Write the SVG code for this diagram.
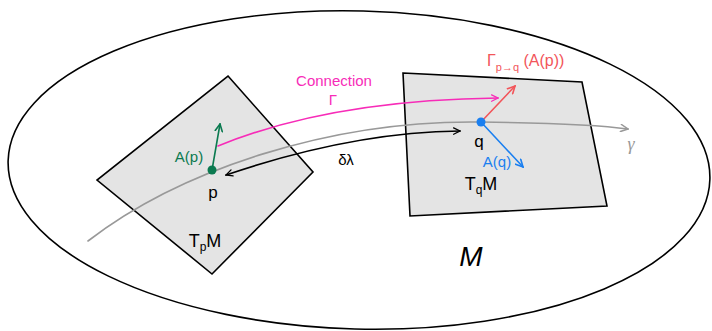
<svg xmlns="http://www.w3.org/2000/svg" width="712" height="331" viewBox="0 0 712 331">
<defs>
<style>
.t{font-family:"Liberation Sans","DejaVu Sans",sans-serif;}
.edge{fill:none;stroke-width:1.6;stroke-linecap:round;}
.plane{fill:#e4e4e4;stroke:#000;stroke-width:1.6;stroke-linejoin:miter;}
</style>
<marker id="ak" viewBox="0 0 10 10" refX="9" refY="5" markerWidth="8" markerHeight="8" orient="auto-start-reverse" markerUnits="userSpaceOnUse"><path d="M1 1 L9 5 L1 9" fill="none" stroke="#000" stroke-width="1.6" stroke-linecap="round"/></marker>
<marker id="ag" viewBox="0 0 10 10" refX="9" refY="5" markerWidth="9" markerHeight="9" orient="auto" markerUnits="userSpaceOnUse"><path d="M1 1 L9 5 L1 9" fill="none" stroke="#999" stroke-width="1.6" stroke-linecap="round"/></marker>
<marker id="ap" viewBox="0 0 10 10" refX="9" refY="5" markerWidth="8" markerHeight="8" orient="auto" markerUnits="userSpaceOnUse"><path d="M1 1 L9 5 L1 9" fill="none" stroke="#f72cb8" stroke-width="1.6" stroke-linecap="round"/></marker>
<marker id="ar" viewBox="0 0 10 10" refX="9" refY="5" markerWidth="9" markerHeight="9" orient="auto" markerUnits="userSpaceOnUse"><path d="M1 1 L9 5 L1 9" fill="none" stroke="#f2555a" stroke-width="1.8" stroke-linecap="round"/></marker>
<marker id="ab" viewBox="0 0 10 10" refX="9" refY="5" markerWidth="9" markerHeight="9" orient="auto" markerUnits="userSpaceOnUse"><path d="M1 1 L9 5 L1 9" fill="none" stroke="#1a7ff0" stroke-width="1.8" stroke-linecap="round"/></marker>
<marker id="agr" viewBox="0 0 10 10" refX="9" refY="5" markerWidth="9" markerHeight="9" orient="auto" markerUnits="userSpaceOnUse"><path d="M1 1 L9 5 L1 9" fill="none" stroke="#0b7a50" stroke-width="1.8" stroke-linecap="round"/></marker>
</defs>
<rect width="712" height="331" fill="#fff"/>
<g id="manifold">
<ellipse cx="359" cy="170" rx="351" ry="159" fill="none" stroke="#000" stroke-width="1.6" transform="rotate(1.5 359 170)"/>
<text class="t" x="471" y="266" font-size="28" font-style="italic" text-anchor="middle" font-family="Liberation Serif,serif">M</text>
</g>
<g id="TpM">
<polygon class="plane" points="228,76 313,172 212,274 97,180"/>
<text class="t" x="205" y="247" font-size="18" text-anchor="middle">T<tspan font-size="12" dy="4">p</tspan><tspan dy="-4">M</tspan></text>
</g>
<g id="TqM">
<polygon class="plane" points="403,73 582,82 607,206 410,216"/>
<text class="t" x="481" y="190" font-size="18" text-anchor="middle">T<tspan font-size="12" dy="4">q</tspan><tspan dy="-4">M</tspan></text>
</g>
<g id="connectors">
<path class="edge" d="M88 241 C180 170 330 120 480 122 C560 123 600 125 628 129" stroke="#999" marker-end="url(#ag)"/>
<path class="edge" d="M218 146 Q330 100 498 98" stroke="#f72cb8" marker-end="url(#ap)"/>
<path class="edge" d="M226 175 C270 160 360 132 460 131" stroke="#000" marker-start="url(#ak)" marker-end="url(#ak)"/>
<path class="edge" d="M212 170 L220 124" stroke="#0b7a50" stroke-width="2" marker-end="url(#agr)"/>
<path class="edge" d="M481 122 L515 86" stroke="#f2555a" stroke-width="2" marker-end="url(#ar)"/>
<path class="edge" d="M481 122 L523 167" stroke="#1a7ff0" stroke-width="2" marker-end="url(#ab)"/>
</g>
<g id="p">
<circle cx="212" cy="170" r="4.5" fill="#0b7a50"/>
<text class="t" x="213" y="198" font-size="17" text-anchor="middle">p</text>
<text class="t" x="189" y="162" font-size="15" text-anchor="middle" fill="#0b7a50">A(p)</text>
</g>
<g id="q">
<circle cx="481" cy="122" r="4.5" fill="#1a7ff0"/>
<text class="t" x="479" y="147" font-size="17" text-anchor="middle">q</text>
<text class="t" x="497" y="167" font-size="15" text-anchor="middle" fill="#1a7ff0">A(q)</text>
<text class="t" x="487" y="66" font-size="16" fill="#f2555a">Γ<tspan font-size="11" dy="5">p→q</tspan><tspan dy="-5"> (A(p))</tspan></text>
</g>
<g id="labels">
<text class="t" x="334" y="86" font-size="15" text-anchor="middle" fill="#f72cb8">Connection</text>
<text class="t" x="333" y="105" font-size="15" text-anchor="middle" fill="#f72cb8">Γ</text>
<text class="t" x="346" y="165" font-size="15" text-anchor="middle">δλ</text>
<text x="631" y="150" font-size="18" text-anchor="middle" fill="#999" font-style="italic" font-family="Liberation Serif,serif">γ</text>
</g>
</svg>
